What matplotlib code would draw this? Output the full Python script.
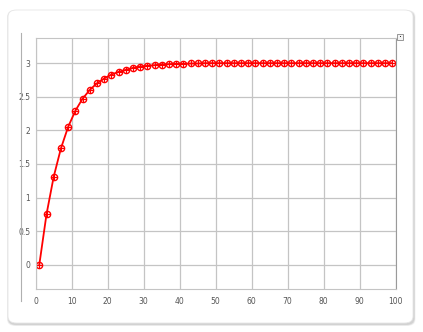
import numpy as np
import matplotlib
matplotlib.use("Agg")
import matplotlib.pyplot as plt
from matplotlib.patches import FancyBboxPatch, Rectangle
from matplotlib.lines import Line2D

# ==== data ====
x_vals = [1, 3, 5, 7, 9, 11, 13, 15, 17, 19, 21, 23, 25, 27, 29, 31, 33, 35, 37, 39,
          41, 43, 45, 47, 49, 51, 53, 55, 57, 59, 61, 63, 65, 67, 69, 71, 73, 75, 77, 79,
          81, 83, 85, 87, 89, 91, 93, 95, 97, 99]
y_vals = [0.0, 0.75, 1.31, 1.73, 2.05, 2.29, 2.47, 2.60, 2.70, 2.77, 2.83, 2.87, 2.90,
          2.93, 2.95, 2.96, 2.97, 2.98, 2.985, 2.99, 2.99, 2.995, 2.995, 3.0, 3.0,
          3.0, 3.0, 3.0, 3.0, 3.0, 3.0, 3.0, 3.0, 3.0, 3.0, 3.0, 3.0, 3.0, 3.0, 3.0,
          3.0, 3.0, 3.0, 3.0, 3.0, 3.0, 3.0, 3.0, 3.0, 3.0]
x_ticks = [0, 10, 20, 30, 40, 50, 60, 70, 80, 90, 100]
y_ticks = [0, 0.5, 1, 1.5, 2, 2.5, 3]
y_labels = ["0", "0.5", "1", "1.5", "2", "2.5", "3"]
# ==================================

W, H = 423, 332
fig = plt.figure(figsize=(W / 100, H / 100), dpi=100)
fig.patch.set_facecolor("white")

# card with soft shadow
for i, a in enumerate([0.05, 0.06, 0.07]):
    fig.patches.append(FancyBboxPatch(((8 - 1 + i * 0.5) / W, (H - 324.5 - 1.5 + i * 0.5) / H),
                                      (406 + 2.5 - i) / W, (314 + 2 - i) / H,
                                      boxstyle="round,pad=0,rounding_size=0.02",
                                      transform=fig.transFigure, fc="black", ec="none",
                                      alpha=a, zorder=0))
fig.patches.append(FancyBboxPatch((8 / W, (H - 323) / H), 405 / W, 313 / H,
                                  boxstyle="round,pad=0,rounding_size=0.02",
                                  transform=fig.transFigure, fc="white", ec="#e6e6e6",
                                  lw=0.6, zorder=1))

ax = fig.add_axes([35.7 / W, (H - 288.7) / H, 360 / W, 250.4 / H])
ax.set_zorder(2)
ax.plot(x_vals, y_vals, color="red", lw=1.3, marker="o", ms=4.5, mfc="none", mec="red", mew=1.0)
ax.plot(x_vals, y_vals, ls="none", marker="+", ms=3.8, mec="red", mew=0.8)

ax.set_xlim(0, 100)
ax.set_ylim(-0.357, 3.37)
ax.set_xticks(x_ticks)
ax.set_yticks(y_ticks)
ax.set_yticklabels(y_labels)
ax.tick_params(length=0, labelsize=5.5, labelcolor="#555555")
ax.tick_params(axis="x", pad=6)
ax.tick_params(axis="y", pad=4)
ax.grid(True, color="#c4c4c4", lw=0.9)
for side in ["left", "bottom", "top"]:
    ax.spines[side].set_color("#c4c4c4")
ax.spines["right"].set_color("#9a9a9a")

# extra vertical axis line on the left
fig.lines.append(Line2D([20.7 / W, 20.7 / W], [(H - 33) / H, (H - 301) / H],
                        transform=fig.transFigure, color="#b0b0b0", lw=0.8, zorder=3))
# small icon at top right
fig.patches.append(Rectangle((397 / W, (H - 39.5) / H), 6 / W, 6 / H, transform=fig.transFigure,
                             fc="#f4f4f4", ec="#888888", lw=0.6, zorder=3))
fig.patches.append(Rectangle((399.5 / W, (H - 37) / H), 1.2 / W, 1.2 / H, transform=fig.transFigure,
                             fc="#333333", ec="none", zorder=4))

fig.savefig("out.png", dpi=100)
